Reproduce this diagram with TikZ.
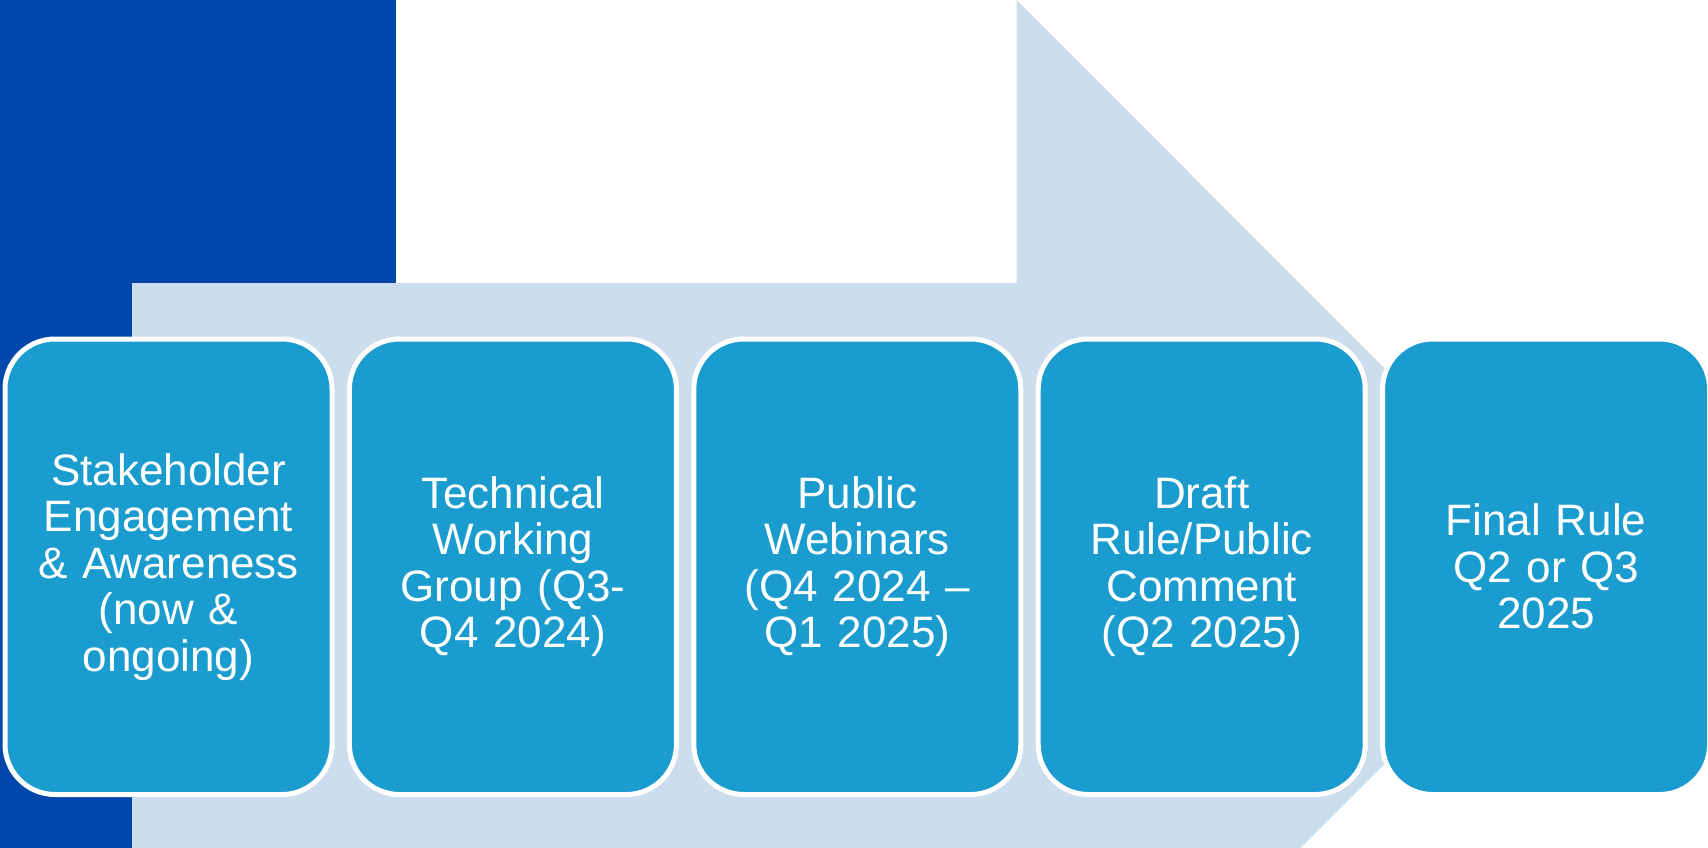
\documentclass[tikz,border=0pt]{standalone}
\usepackage{fontspec}
\setmainfont{Liberation Sans}
\definecolor{darkblue}{RGB}{0,71,171}
\definecolor{paleblue}{RGB}{204,221,237}
\definecolor{boxblue}{RGB}{27,156,207}
\begin{document}
\begin{tikzpicture}[x=1pt,y=-1pt,
  stepbox/.style={draw=white, line width=5pt, fill=boxblue, rounded corners=50pt,
    minimum width=327pt, minimum height=455.5pt, text width=315pt, align=center,
    text=white, inner sep=0pt, font=\fontsize{44}{46.5}\selectfont}]
\useasboundingbox (0,0) rectangle (1708,848);
\clip (0,0) rectangle (1708,848);
% dark blue block
\fill[darkblue] (0,0) rectangle (396,848);
% pale arrow
\fill[paleblue] (132,283) -- (1016.7,283) -- (1016.7,0) -- (1582,566) -- (1016.7,1132) -- (1016.7,849) -- (132,849) -- cycle;
% boxes
\node[stepbox] (b1) at (168.5,566.75) {Stakeholder\\Engagement\\\&~Awareness\\(now \&\\ongoing)};
\node[stepbox] (b2) at (512.9,566.75) {Technical\\Working\\Group (Q3-\\Q4 2024)};
\node[stepbox] (b3) at (857.3,566.75) {Public\\Webinars\\(Q4 2024 –\\Q1 2025)};
\node[stepbox] (b4) at (1201.7,566.75) {Draft\\Rule/Public\\Comment\\(Q2 2025)};
\node[stepbox] (b5) at (1546.1,566.75) {Final Rule\\Q2 or Q3\\2025};
\end{tikzpicture}
\end{document}
